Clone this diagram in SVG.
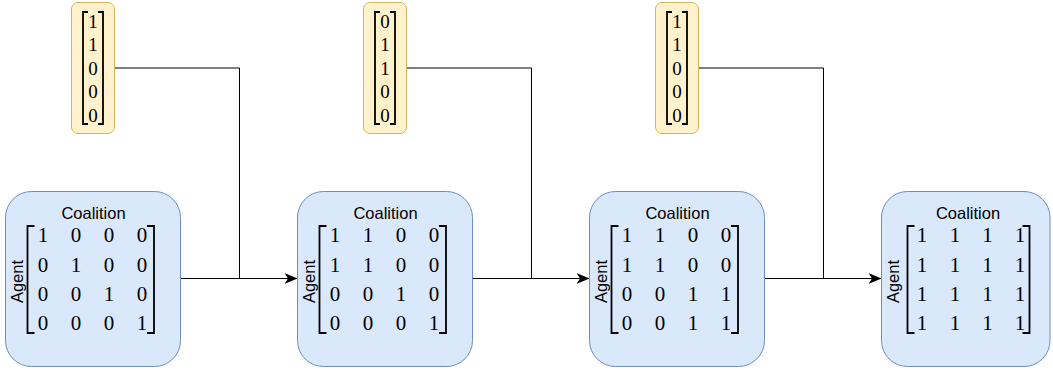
<svg xmlns="http://www.w3.org/2000/svg" width="1053" height="370" viewBox="0 0 1053 370">
<style>
.box{fill:#dae8fc;stroke:#6c8ebf;stroke-width:1}
.vec{fill:#fff2cc;stroke:#d6b656;stroke-width:1}
.lbl{font-family:"Liberation Sans",Arial,sans-serif;font-size:16.5px;fill:#000}
.num{font-family:"Liberation Serif","Times New Roman",serif;font-size:21px;fill:#000;text-anchor:middle}
.vnum{font-family:"Liberation Serif","Times New Roman",serif;font-size:19px;fill:#000;text-anchor:middle}
.br{fill:none;stroke:#000;stroke-width:1.8}
.edge{fill:none;stroke:#000;stroke-width:1}
</style>
<defs>
<marker id="arr" markerUnits="userSpaceOnUse" viewBox="0 0 13 11" refX="13" refY="5.5" markerWidth="13" markerHeight="11" orient="auto">
<path d="M0,0 L13,5.5 L0,11 L3.5,5.5 Z" fill="#000"/>
</marker>
<g id="mbr">
<path class="br" d="M29,34.5 H22 V141.5 H29"/>
<path class="br" d="M141.5,34.5 H148.5 V141.5 H141.5"/>
</g>
<g id="vbr">
<path class="br" d="M16.5,9.5 H11.5 V121.5 H16.5"/>
<path class="br" d="M26.5,9.5 H31.5 V121.5 H26.5"/>
</g>
</defs>

<g id="connectors">
<path class="edge" d="M114.5,68 H239.5 V278.5"/>
<path class="edge" d="M180.5,278.5 H297.5" marker-end="url(#arr)"/>
<path class="edge" d="M406.5,68 H531.5 V278.5"/>
<path class="edge" d="M472.5,278.5 H589.5" marker-end="url(#arr)"/>
<path class="edge" d="M698.5,68 H823.5 V278.5"/>
<path class="edge" d="M764.5,278.5 H881.5" marker-end="url(#arr)"/>
</g>

<g id="vec1" transform="translate(71.5,2.5)">
<rect class="vec" x="0" y="0" width="43" height="131" rx="6.5" ry="6.5"/>
<use href="#vbr"/>
<text class="vnum" x="21.5" y="25">1</text>
<text class="vnum" x="21.5" y="48.5">1</text>
<text class="vnum" x="21.5" y="72">0</text>
<text class="vnum" x="21.5" y="95.5">0</text>
<text class="vnum" x="21.5" y="119">0</text>
</g>
<g id="vec2" transform="translate(363.5,2.5)">
<rect class="vec" x="0" y="0" width="43" height="131" rx="6.5" ry="6.5"/>
<use href="#vbr"/>
<text class="vnum" x="21.5" y="25">0</text>
<text class="vnum" x="21.5" y="48.5">1</text>
<text class="vnum" x="21.5" y="72">1</text>
<text class="vnum" x="21.5" y="95.5">0</text>
<text class="vnum" x="21.5" y="119">0</text>
</g>
<g id="vec3" transform="translate(655.5,2.5)">
<rect class="vec" x="0" y="0" width="43" height="131" rx="6.5" ry="6.5"/>
<use href="#vbr"/>
<text class="vnum" x="21.5" y="25">1</text>
<text class="vnum" x="21.5" y="48.5">1</text>
<text class="vnum" x="21.5" y="72">0</text>
<text class="vnum" x="21.5" y="95.5">0</text>
<text class="vnum" x="21.5" y="119">0</text>
</g>

<g id="coal1" transform="translate(5.5,191.5)">
<rect class="box" x="0" y="0" width="175" height="175" rx="26" ry="26"/>
<text class="lbl" x="88" y="27.5" text-anchor="middle">Coalition</text>
<text class="lbl" text-anchor="middle" transform="translate(17,90) rotate(-90)">Agent</text>
<use href="#mbr"/>
<g class="num">
<text x="37.5" y="50.5">1</text><text x="70.5" y="50.5">0</text><text x="103.5" y="50.5">0</text><text x="136.5" y="50.5">0</text>
<text x="37.5" y="80">0</text><text x="70.5" y="80">1</text><text x="103.5" y="80">0</text><text x="136.5" y="80">0</text>
<text x="37.5" y="109">0</text><text x="70.5" y="109">0</text><text x="103.5" y="109">1</text><text x="136.5" y="109">0</text>
<text x="37.5" y="138">0</text><text x="70.5" y="138">0</text><text x="103.5" y="138">0</text><text x="136.5" y="138">1</text>
</g>
</g>

<g id="coal2" transform="translate(297.5,191.5)">
<rect class="box" x="0" y="0" width="175" height="175" rx="26" ry="26"/>
<text class="lbl" x="88" y="27.5" text-anchor="middle">Coalition</text>
<text class="lbl" text-anchor="middle" transform="translate(17,90) rotate(-90)">Agent</text>
<use href="#mbr"/>
<g class="num">
<text x="37.5" y="50.5">1</text><text x="70.5" y="50.5">1</text><text x="103.5" y="50.5">0</text><text x="136.5" y="50.5">0</text>
<text x="37.5" y="80">1</text><text x="70.5" y="80">1</text><text x="103.5" y="80">0</text><text x="136.5" y="80">0</text>
<text x="37.5" y="109">0</text><text x="70.5" y="109">0</text><text x="103.5" y="109">1</text><text x="136.5" y="109">0</text>
<text x="37.5" y="138">0</text><text x="70.5" y="138">0</text><text x="103.5" y="138">0</text><text x="136.5" y="138">1</text>
</g>
</g>

<g id="coal3" transform="translate(589.5,191.5)">
<rect class="box" x="0" y="0" width="175" height="175" rx="26" ry="26"/>
<text class="lbl" x="88" y="27.5" text-anchor="middle">Coalition</text>
<text class="lbl" text-anchor="middle" transform="translate(17,90) rotate(-90)">Agent</text>
<use href="#mbr"/>
<g class="num">
<text x="37.5" y="50.5">1</text><text x="70.5" y="50.5">1</text><text x="103.5" y="50.5">0</text><text x="136.5" y="50.5">0</text>
<text x="37.5" y="80">1</text><text x="70.5" y="80">1</text><text x="103.5" y="80">0</text><text x="136.5" y="80">0</text>
<text x="37.5" y="109">0</text><text x="70.5" y="109">0</text><text x="103.5" y="109">1</text><text x="136.5" y="109">1</text>
<text x="37.5" y="138">0</text><text x="70.5" y="138">0</text><text x="103.5" y="138">1</text><text x="136.5" y="138">1</text>
</g>
</g>

<g id="coal4" transform="translate(881.5,191.5)">
<rect class="box" x="0" y="0" width="168.5" height="175" rx="26" ry="26"/>
<text class="lbl" x="86.5" y="27.5" text-anchor="middle">Coalition</text>
<text class="lbl" text-anchor="middle" transform="translate(17,90) rotate(-90)">Agent</text>
<path class="br" d="M33,34.5 H26 V141.5 H33"/>
<path class="br" d="M141,34.5 H148 V141.5 H141"/>
<g class="num">
<text x="40.5" y="50.5">1</text><text x="73.5" y="50.5">1</text><text x="106" y="50.5">1</text><text x="138.5" y="50.5">1</text>
<text x="40.5" y="80">1</text><text x="73.5" y="80">1</text><text x="106" y="80">1</text><text x="138.5" y="80">1</text>
<text x="40.5" y="109">1</text><text x="73.5" y="109">1</text><text x="106" y="109">1</text><text x="138.5" y="109">1</text>
<text x="40.5" y="138">1</text><text x="73.5" y="138">1</text><text x="106" y="138">1</text><text x="138.5" y="138">1</text>
</g>
</g>
</svg>
